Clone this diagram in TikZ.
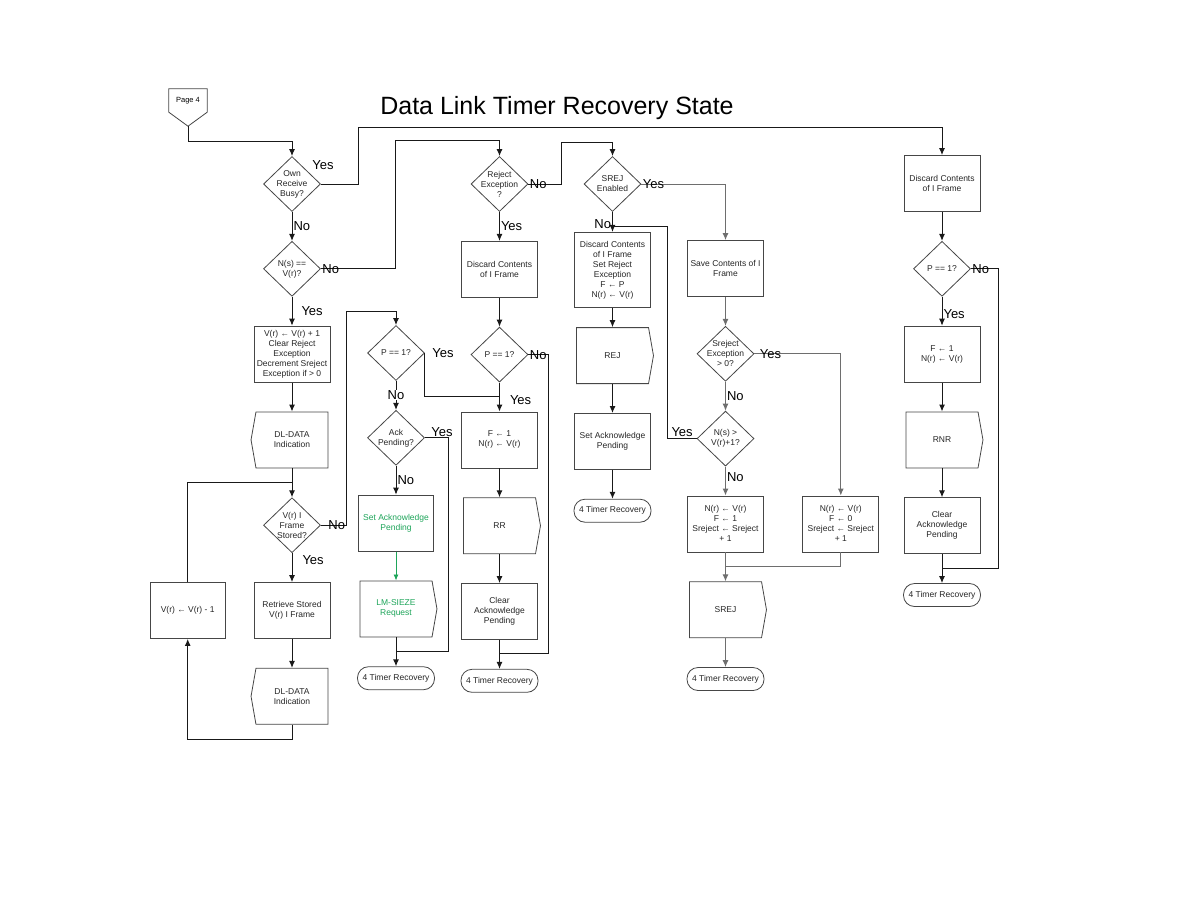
\documentclass[tikz,border=0pt]{standalone}
\usepackage{fontspec}
\setmainfont{Liberation Sans}
\usepackage{tikz}
\usetikzlibrary{shapes.geometric, shapes.symbols, arrows.meta, positioning}

\definecolor{boxgray}{RGB}{70,70,70}
\definecolor{linegray}{RGB}{110,110,110}
\definecolor{ackgreen}{RGB}{30,165,90}

\begin{document}
\begin{tikzpicture}[
    x=1pt, y=-1pt,
    node distance=29pt,
    txt/.style={font=\fontsize{8.5pt}{10pt}\selectfont, align=center, text=black!85},
    block/.style={rectangle, draw=boxgray, line width=0.8pt, fill=white, minimum width=76pt, minimum height=56pt, inner sep=2pt, txt},
    decision/.style={diamond, draw=boxgray, line width=0.8pt, fill=white, minimum width=57pt, minimum height=55pt, inner sep=0pt},
    dtxt/.style={txt, inner sep=0pt},
    sendbox/.style={signal, signal to=east, signal pointer angle=160, draw=boxgray, line width=0.8pt, fill=white, minimum width=77pt, minimum height=56pt, inner sep=2pt, txt},
    showbox/.style={signal, signal to=west, signal pointer angle=160, draw=boxgray, line width=0.8pt, fill=white, minimum width=77pt, minimum height=56pt, inner sep=2pt, txt},
    terminal/.style={rectangle, rounded corners=11pt, draw=boxgray, line width=0.8pt, fill=white, minimum width=77pt, minimum height=23pt, inner sep=1pt, txt},
    offpage/.style={rectangle, minimum width=38pt, minimum height=23pt, inner sep=1pt, font=\fontsize{7.5pt}{9pt}\selectfont},
    lbl/.style={font=\fontsize{13pt}{13pt}\selectfont, inner sep=1pt},
    link/.style={line width=1pt, draw=black!90},
    arrow/.style={link, -{Latex[length=7pt, width=6pt]}},
    gline/.style={draw=linegray},
]
\useasboundingbox (0,0) rectangle (1188,918);

\node[font=\fontsize{25pt}{25pt}\selectfont] (title) at (557,108) {Data Link Timer Recovery State};

% Entry
\node[offpage] (page4) at (188,100.5) {Page 4};
\draw[boxgray, line width=0.8pt] (page4.north west) -- (page4.north east) -- (page4.south east)
    -- ([yshift=-14pt]page4.south) coordinate (page4tip) -- (page4.south west) -- cycle;

% Column 1: I frame in sequence
\node[decision, label={[dtxt]center:Own\\Receive\\Busy?}] (own) at (292,184) {};
\node[decision, below=of own, label={[dtxt]center:{N(s) ==}\\V(r)?}] (nseq) {};
\node[block, below=of nseq] (vrinc) {V(r) ← V(r) + 1\\Clear Reject\\Exception\\Decrement Sreject\\Exception if > 0};
\node[showbox, below=of vrinc] (dlind1) {DL-DATA\\Indication};
\node[decision, below=of dlind1, label={[dtxt]center:V(r) I\\Frame\\Stored?}] (stored) {};
\node[block, below=of stored] (retrieve) {Retrieve Stored\\V(r) I Frame};
\node[showbox, below=of retrieve] (dlind2) {DL-DATA\\Indication};
\node[block, left=28pt of retrieve, minimum width=75pt] (vrdec) {V(r) ← V(r) - 1};
\coordinate[below=14pt of dlind1] (loopin);

% Column 2: acknowledge
\node[decision, label={[dtxt]center:{P == 1?}}] (pleft) at (396,353) {};
\node[decision, below=of pleft, label={[dtxt]center:Ack\\Pending?}] (ack) {};
\node[block, below=of ack, minimum width=75pt, text=ackgreen] (setack) {Set Acknowledge\\Pending};
\node[sendbox, below=of setack, text=ackgreen] (lmsieze) {LM-SIEZE\\Request};
\node[terminal, below=of lmsieze] (term1) {4 Timer Recovery};
\coordinate[below=14pt of lmsieze] (ackjoin);

% Column 3: reject exception set
\node[decision, label={[dtxt]center:Reject\\Exception\\?}] (rejexc) at (499.5,184) {};
\node[block, below=of rejexc] (discard1) {Discard Contents\\of I Frame};
\node[decision, below=of discard1, label={[dtxt]center:{P == 1?}}] (pmid) {};
\node[block, below=of pmid] (fset1) {F ← 1\\N(r) ← V(r)};
\node[sendbox, below=of fset1] (rr) {RR};
\node[block, below=of rr] (clear1) {Clear\\Acknowledge\\Pending};
\node[terminal, below=of clear1] (term2) {4 Timer Recovery};
\coordinate[below=14pt of pmid] (pyes);
\coordinate[below=14pt of clear1] (rrjoin);

% Column 4: SREJ disabled
\node[decision, label={[dtxt]center:SREJ\\Enabled}] (srejen) at (612.5,184) {};
\node[block, below=20pt of srejen, minimum height=75pt] (discard2) {Discard Contents\\of I Frame\\Set Reject\\Exception\\F ← P\\N(r) ← V(r)};
\node[sendbox, below=19.5pt of discard2] (rej) {REJ};
\node[block, below=of rej] (setack2) {Set Acknowledge\\Pending};
\node[terminal, below=of setack2] (term3) {4 Timer Recovery};
\coordinate[below=15pt of srejen] (srejno);

% Column 5: SREJ enabled
\node[block] (save) at (725.5,268.5) {Save Contents of I\\Frame};
\node[decision, below=of save, label={[dtxt]center:Sreject\\Exception\\> 0?}] (srejexc) {};
\node[decision, below=of srejexc, label={[dtxt]center:N(s) >\\V(r)+1?}] (nsgt) {};
\node[block, below=of nsgt] (nrset1) {N(r) ← V(r)\\F ← 1\\Sreject ← Sreject\\+ 1};
\node[block, right=38.5pt of nrset1] (nrset0) {N(r) ← V(r)\\F ← 0\\Sreject ← Sreject\\+ 1};
\node[sendbox, below=of nrset1] (srej) {SREJ};
\node[terminal, below=of srej] (term4) {4 Timer Recovery};
\coordinate[below=14pt of nrset1] (srejjoin);

% Column 6: own receiver busy
\node[block] (discard3) at (942,183.5) {Discard Contents\\of I Frame};
\node[decision, below=of discard3, label={[dtxt]center:{P == 1?}}] (pright) {};
\node[block, below=of pright] (fset2) {F ← 1\\N(r) ← V(r)};
\node[sendbox, below=of fset2] (rnr) {RNR};
\node[block, below=of rnr] (clear2) {Clear\\Acknowledge\\Pending};
\node[terminal, below=of clear2] (term5) {4 Timer Recovery};
\coordinate[below=14pt of clear2] (rnrjoin);

% Connectors, column 1
\draw[arrow] (page4tip) -- ++(0,15) -| (own.north);
\draw[arrow] (own.east) node[lbl, xshift=2pt, yshift=19pt] {Yes} -- ++(38,0) |- ([yshift=28pt]discard3.north) -- (discard3.north);
\draw[arrow] (own.south) -- node[lbl, right] {No} (nseq.north);
\draw[arrow] (nseq.east) node[lbl, right] {No} -- ++(75,0) |- ([yshift=16pt]rejexc.north) -- (rejexc.north);
\draw[arrow] (nseq.south) -- node[lbl, right=8pt] {Yes} (vrinc.north);
\draw[arrow] (vrinc.south) -- (dlind1.north);
\draw[arrow] (dlind1.south) -- (stored.north);
\draw[link] (vrdec.north) |- (loopin);
\draw[arrow] (stored.south) -- node[lbl, right=9pt, pos=0.25] {Yes} (retrieve.north);
\draw[arrow] (stored.east) node[lbl, right=6pt] {No} -- ++(26,0) |- ([yshift=14pt]pleft.north) -- (pleft.north);
\draw[arrow] (retrieve.south) -- (dlind2.north);
\draw[arrow] (dlind2.south) -- ++(0,15) -| (vrdec.south);

% Connectors, column 2
\draw[link] (pleft.east) node[lbl, right=6pt] {Yes} |- (pyes);
\draw[arrow] (pleft.south) -- node[lbl, fill=white, inner sep=0.5pt] {No} (ack.north);
\draw[arrow] (ack.south) -- node[lbl, right] {No} (setack.north);
\draw[link] (ack.east) node[lbl, above right, xshift=5pt] {Yes} -- ++(24,0) |- (ackjoin);
\draw[-{Latex[length=6pt, width=5pt]}, ackgreen, line width=0.8pt] (setack.south) -- (lmsieze.north);
\draw[arrow] (lmsieze.south) -- (term1.north);

% Connectors, column 3
\draw[arrow] (rejexc.south) -- node[lbl, right] {Yes} (discard1.north);
\draw[arrow] (rejexc.east) node[lbl, right] {No} -- ++(33,0) |- ([yshift=14pt]srejen.north) -- (srejen.north);
\draw[arrow] (discard1.south) -- (pmid.north);
\draw[arrow] (pmid.south) -- node[lbl, right=9pt, pos=0.6] {Yes} (fset1.north);
\draw[link] (pmid.east) node[lbl, right] {No} -- ++(20,0) |- (rrjoin);
\draw[arrow] (fset1.south) -- (rr.north);
\draw[arrow] (rr.south) -- (clear1.north);
\draw[arrow] (clear1.south) -- (term2.north);

% Connectors, column 4
\draw[arrow] (srejen.south) -- node[lbl, left, pos=0.62] {No} (discard2.north);
\draw[arrow, gline] (srejen.east) node[lbl, right] {Yes} -| (save.north);
\draw[link] (nsgt.west) -- node[lbl, above] {Yes} ++(-29,0) |- (srejno);
\draw[arrow] (discard2.south) -- (rej.north);
\draw[arrow] (rej.south) -- (setack2.north);
\draw[arrow] (setack2.south) -- (term3.north);

% Connectors, column 5
\draw[arrow, gline] (save.south) -- (srejexc.north);
\draw[arrow, gline] (srejexc.east) node[lbl, right=4pt] {Yes} -| (nrset0.north);
\draw[arrow, gline] (srejexc.south) -- node[lbl, right] {No} (nsgt.north);
\draw[arrow, gline] (nsgt.south) -- node[lbl, right, pos=0.36] {No} (nrset1.north);
\draw[arrow, gline] (nrset1.south) -- (srej.north);
\draw[link, gline] (nrset0.south) |- (srejjoin);
\draw[arrow, gline] (srej.south) -- (term4.north);

% Connectors, column 6
\draw[arrow] (discard3.south) -- (pright.north);
\draw[arrow] (pright.south) -- node[lbl, right, pos=0.6] {Yes} (fset2.north);
\draw[link] (pright.east) node[lbl, right] {No} -- ++(28,0) |- (rnrjoin);
\draw[arrow] (fset2.south) -- (rnr.north);
\draw[arrow] (rnr.south) -- (clear2.north);
\draw[arrow] (clear2.south) -- (term5.north);
\end{tikzpicture}
\end{document}
